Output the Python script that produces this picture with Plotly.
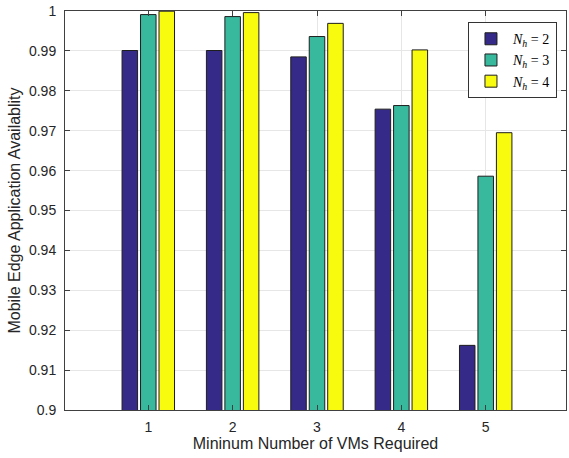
import plotly.graph_objects as go

categories = [1, 2, 3, 4, 5]
nh2 = [0.9901, 0.9901, 0.9885, 0.9754, 0.9162]
nh3 = [0.9991, 0.9986, 0.9936, 0.9763, 0.9586]
nh4 = [0.99995, 0.9996, 0.9969, 0.99025, 0.9695]
series_names = ["<i>N</i><sub><i>h</i></sub> = 2", "<i>N</i><sub><i>h</i></sub> = 3", "<i>N</i><sub><i>h</i></sub> = 4"]
colors = ["#352A87", "#38B99E", "#F9FB0E"]
y_ticks = [0.9, 0.91, 0.92, 0.93, 0.94, 0.95, 0.96, 0.97, 0.98, 0.99, 1.0]
y_tick_labels = ["0.9", "0.91", "0.92", "0.93", "0.94", "0.95", "0.96", "0.97", "0.98", "0.99", "1"]

fig = go.Figure()
for name, vals, col in zip(series_names, [nh2, nh3, nh4], colors):
    fig.add_trace(go.Bar(
        x=categories, y=vals, name=name,
        marker=dict(color=col, line=dict(color="rgb(30,30,30)", width=1)),
    ))

font_family = "Liberation Sans, Arial, sans-serif"
fig.update_layout(
    width=569, height=458,
    margin=dict(l=65, r=3, t=11, b=48, autoexpand=False),
    paper_bgcolor="white", plot_bgcolor="white",
    barmode="group", bargap=0.343, bargroupgap=0.16,
    font=dict(family=font_family, size=14, color="#262626"),
    showlegend=True,
    legend=dict(
        x=0.982, y=0.972, xanchor="right", yanchor="top",
        bgcolor="white", bordercolor="#333333", borderwidth=1,
        font=dict(family="Liberation Serif, Times New Roman, serif", size=14, color="black"),
        tracegroupgap=0, itemwidth=34,
    ),
    xaxis=dict(
        range=[0.0125, 5.952], tickvals=categories, ticktext=[str(c) for c in categories],
        showline=True, linecolor="#404040", linewidth=1, mirror="ticks",
        ticks="inside", ticklen=5, tickcolor="#404040", ticklabelstandoff=4,
        showgrid=True, gridcolor="#e6e6e6", gridwidth=1, automargin=False,
        title=dict(text="Mininum Number of VMs Required", font=dict(size=16, color="#262626"), standoff=2),
        tickfont=dict(size=14, color="#262626"), zeroline=False,
    ),
    yaxis=dict(
        range=[0.9, 1.0], tickvals=y_ticks, ticktext=y_tick_labels,
        showline=True, linecolor="#404040", linewidth=1, mirror="ticks",
        ticks="inside", ticklen=5, tickcolor="#404040", ticklabelstandoff=5,
        showgrid=True, gridcolor="#e6e6e6", gridwidth=1, automargin=False,
        title=dict(text="Mobile Edge Application Availablity", font=dict(size=16, color="#262626"), standoff=4),
        tickfont=dict(size=14, color="#262626"), zeroline=False,
    ),
)

fig.write_html(
    "out.html",
    config={"displayModeBar": False},
    post_script="document.body.style.margin='0';document.documentElement.style.overflow='hidden';",
)
